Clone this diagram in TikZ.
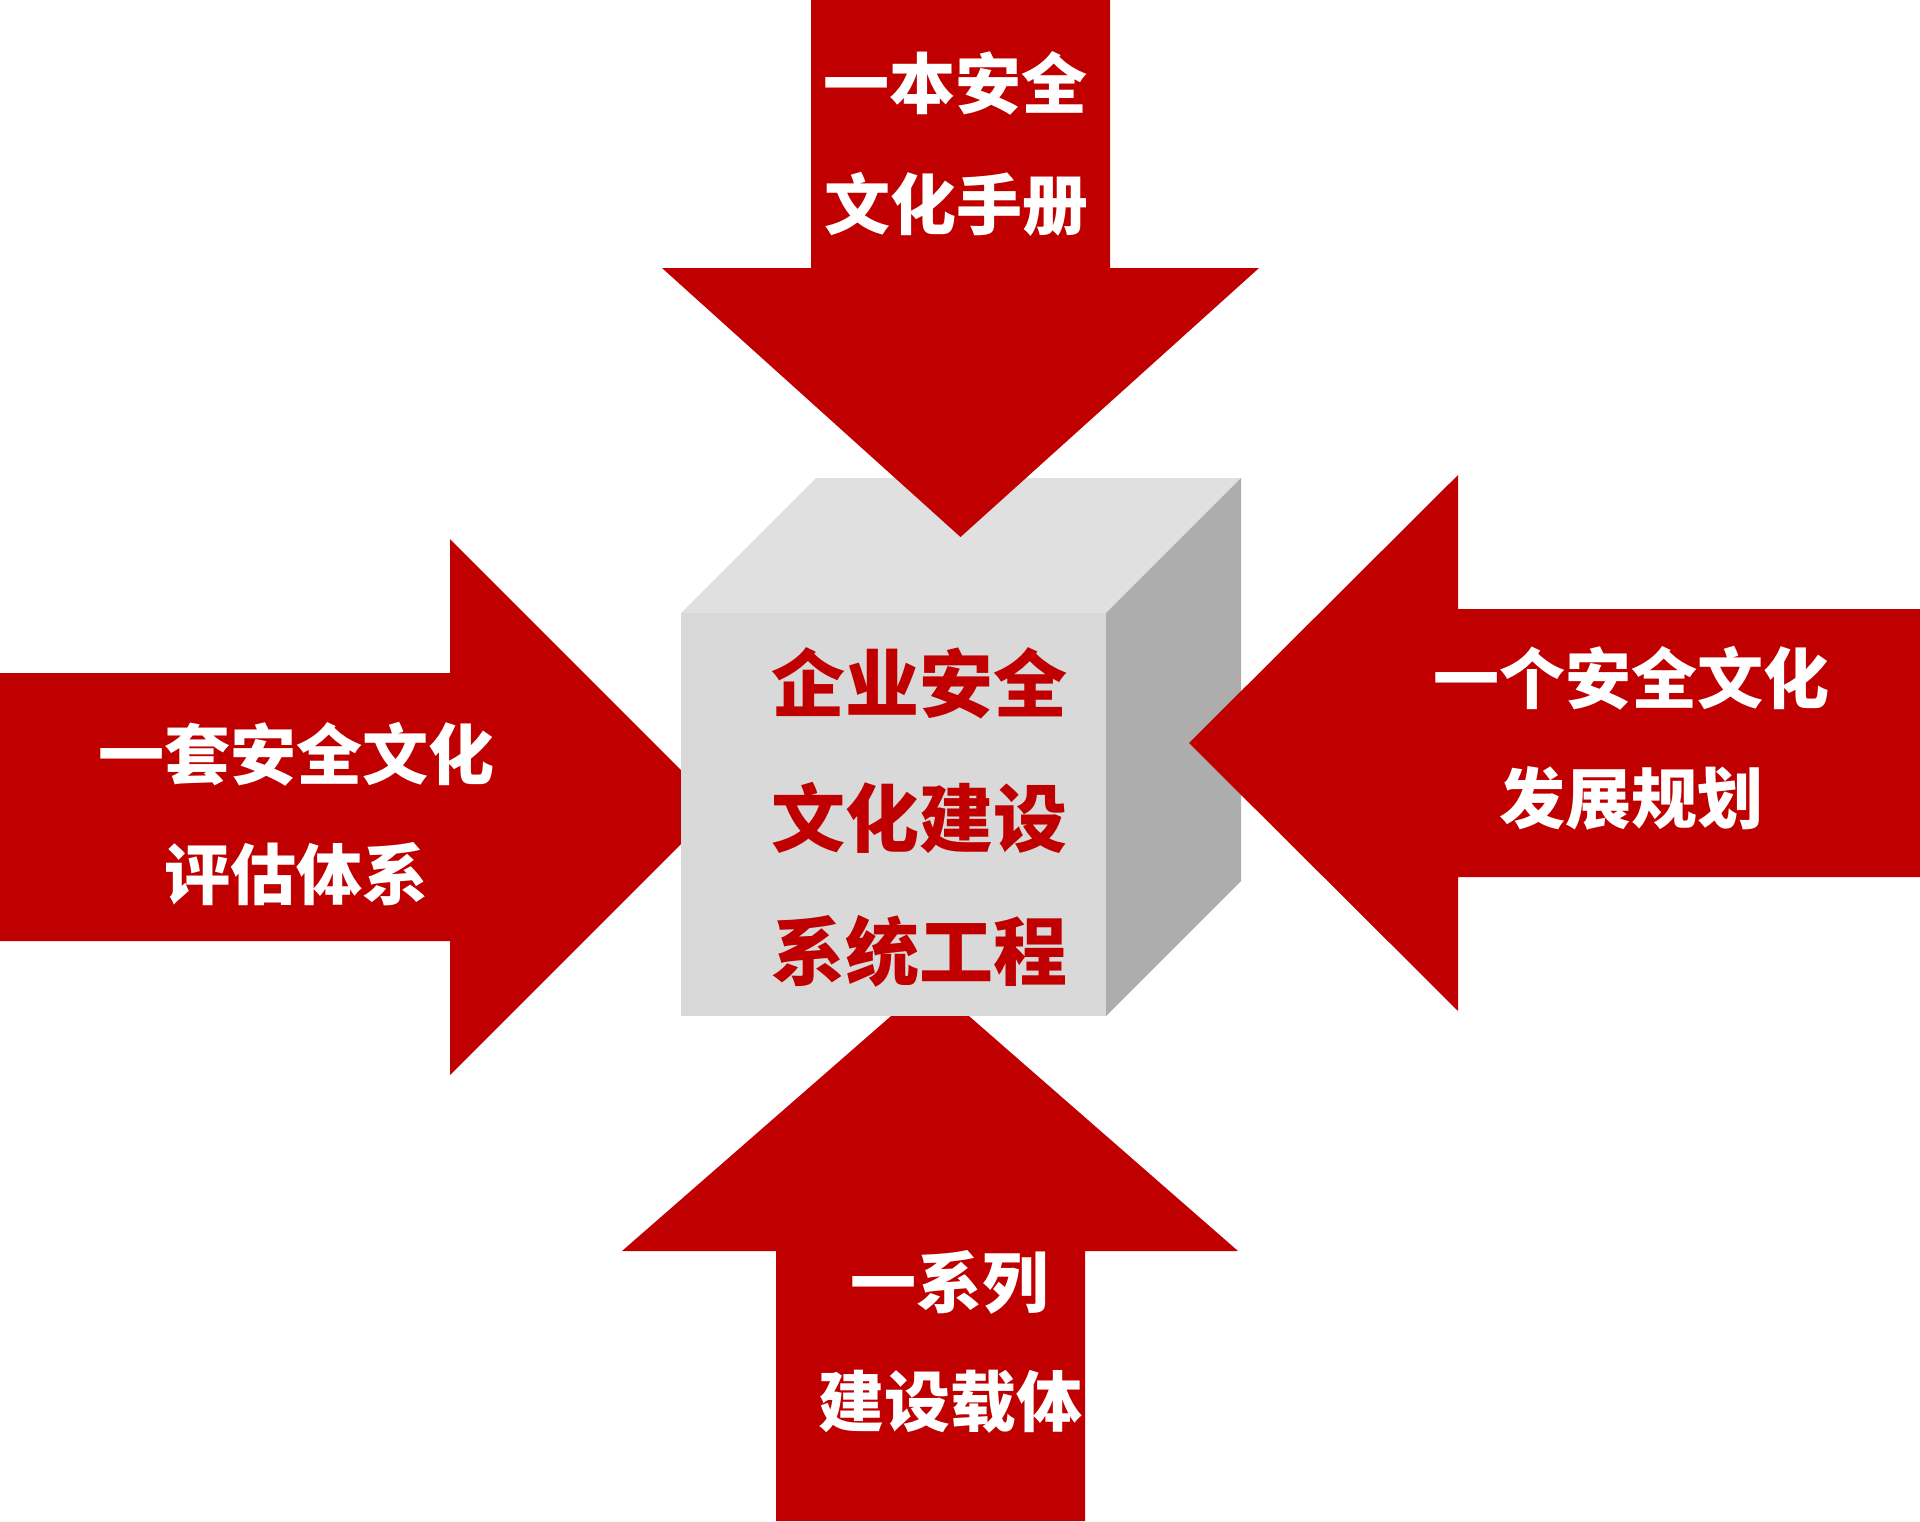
\documentclass[tikz,border=0pt]{standalone}
\usepackage{fontspec}
\newfontfamily\cjk{Noto Sans CJK SC}
\definecolor{arrowred}{RGB}{192,0,0}
\definecolor{cubefront}{RGB}{217,217,217}
\definecolor{cubetop}{RGB}{224,224,224}
\definecolor{cubeside}{RGB}{173,173,173}
\tikzset{
  bigarrow/.style={fill=arrowred, draw=none},
  wtext/.style={text=white, inner sep=0pt, font=\cjk\bfseries\fontsize{33}{40}\selectfont},
  ctext/.style={text=arrowred, inner sep=0pt, font=\cjk\bfseries\fontsize{37}{44}\selectfont},
}
\begin{document}
\begin{tikzpicture}[x=0.5pt, y=-0.5pt]
\useasboundingbox (0,0) rectangle (1920,1521);
% left arrow (behind cube)
\fill[bigarrow] (0,673) -- (450,673) -- (450,539) -- (718,807) -- (450,1075) -- (450,941) -- (0,941) -- cycle;
% bottom arrow (behind cube)
\fill[bigarrow] (776,1521) -- (776,1251) -- (622,1251) -- (930,982) -- (1238,1251) -- (1085,1251) -- (1085,1521) -- cycle;
% cube
\fill[cubefront] (681,613) rectangle (1106,1016);
\fill[cubetop] (681,613) -- (816,478) -- (1241,478) -- (1106,613) -- cycle;
\fill[cubeside] (1106,613) -- (1241,478) -- (1241,881) -- (1106,1016) -- cycle;
% top arrow
\fill[bigarrow] (811,0) -- (1110,0) -- (1110,268) -- (1259,268) -- (960.5,537) -- (662,268) -- (811,268) -- cycle;
% right arrow
\fill[bigarrow] (1920,609) -- (1458,609) -- (1458,475) -- (1189,743) -- (1458,1011) -- (1458,877) -- (1920,877) -- cycle;
% texts
\node[wtext] (t1) at (955.5,83) {一本安全};
\node[wtext] (t2) at (956,204) {文化手册};
\node[wtext] (l1) at (296,754) {一套安全文化};
\node[wtext] (l2) at (296.5,874) {评估体系};
\node[wtext] (r1) at (1631.5,678) {一个安全文化};
\node[wtext] (r2) at (1631,798) {发展规划};
\node[wtext] (b1) at (949,1282) {一系列};
\node[wtext] (b2) at (950,1402) {建设载体};
\node[ctext] (c1) at (919,683) {企业安全};
\node[ctext] (c2) at (919,818) {文化建设};
\node[ctext] (c3) at (919,951) {系统工程};
\end{tikzpicture}
\end{document}
